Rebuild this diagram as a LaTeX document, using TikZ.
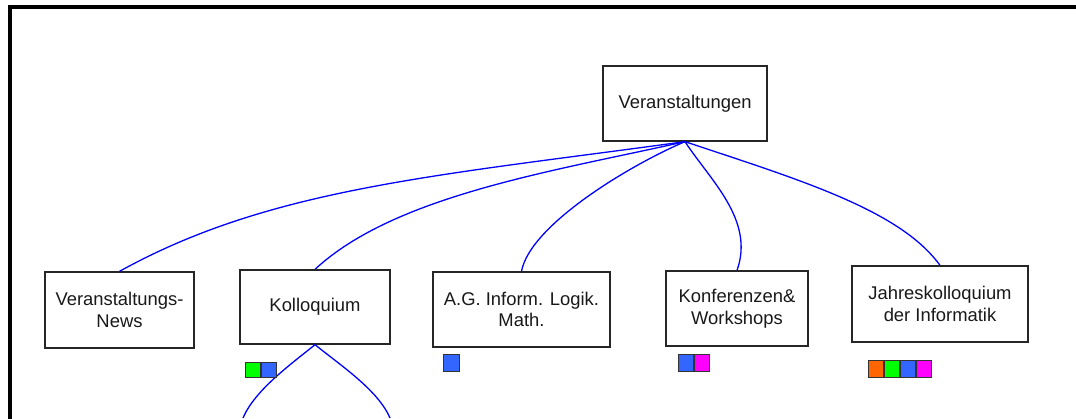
\documentclass[tikz,border=0pt]{standalone}
\usepackage{fontspec}
\setmainfont{Liberation Sans}
\definecolor{cblue}{HTML}{3366FF}
\definecolor{cgreen}{HTML}{00FF00}
\definecolor{corange}{HTML}{FF6600}
\definecolor{cmagenta}{HTML}{FF00FF}
\definecolor{cline}{HTML}{0000FF}
\begin{document}
\begin{tikzpicture}[x=1pt,y=-1pt,
  box/.style={draw=black!85,line width=1.3pt,fill=white,align=center,inner sep=0pt,
    font=\fontsize{18.4}{21.5}\selectfont,text=black!90},
  conn/.style={draw=cline,line width=1.3pt},
  marker/.style={draw=black!80,line width=1pt,minimum width=15pt,minimum height=15pt,inner sep=0pt,anchor=north west},
  markernext/.style={draw=black!80,line width=1pt,minimum width=15pt,minimum height=15pt,inner sep=0pt,anchor=west}]
\useasboundingbox (0,0) rectangle (1076,418);
\fill[white] (0,0) rectangle (1076,418);
% frame
\draw[line width=4pt] (10,420) -- (10,7) -- (1078,7);
% nodes
\node[box,minimum width=164pt,minimum height=75pt] (top) at (685,103.5) {Veranstaltungen};
\node[box,minimum width=149pt,minimum height=76pt] (news) at (119.5,310) {Veranstaltungs-\\News};
\node[box,minimum width=150pt,minimum height=74pt] (koll) at (315,307) {Kolloquium};
\node[box,minimum width=177pt,minimum height=75pt] (ag) at (521.5,309.5) {A.G. Inform. Logik.\\Math.};
\node[box,minimum width=142pt,minimum height=75pt] (konf) at (737,308.5) {Konferenzen\&\\Workshops};
\node[box,minimum width=176pt,minimum height=76pt] (jahr) at (940,304) {Jahreskolloquium\\der Informatik};
% connectors
\draw[conn] (top.south) .. controls (435,176) and (270,188) .. (news.north);
\draw[conn] (top.south) .. controls (555,171) and (395,195) .. (koll.north);
\draw[conn] (top.south) .. controls (630,165) and (530,225) .. (ag.north);
\draw[conn] (top.south) .. controls (710,180) and (755,220) .. (konf.north);
\draw[conn] (top.south) .. controls (800,180) and (900,210) .. (jahr.north);
\coordinate (kl) at (243,418);
\coordinate (kr) at (390,418);
\draw[conn] (koll.south) .. controls (290,365) and (255,390) .. (kl);
\draw[conn] (koll.south) .. controls (340,365) and (378,390) .. (kr);
% markers
\node[marker,fill=cgreen] (k1) at (245,362) {};
\node[markernext,fill=cblue] (k2) at (k1.east) {};
\node[marker,fill=cblue,minimum width=16pt,minimum height=17pt] (a1) at (443,354) {};
\node[marker,fill=cblue,minimum height=17pt] (c1) at (678,354) {};
\node[markernext,fill=cmagenta,minimum height=17pt] (c2) at (c1.east) {};
\node[marker,fill=corange,minimum height=17pt] (j1) at (868,360) {};
\node[markernext,fill=cgreen,minimum height=17pt] (j2) at (j1.east) {};
\node[markernext,fill=cblue,minimum height=17pt] (j3) at (j2.east) {};
\node[markernext,fill=cmagenta,minimum height=17pt] (j4) at (j3.east) {};
\end{tikzpicture}
\end{document}
